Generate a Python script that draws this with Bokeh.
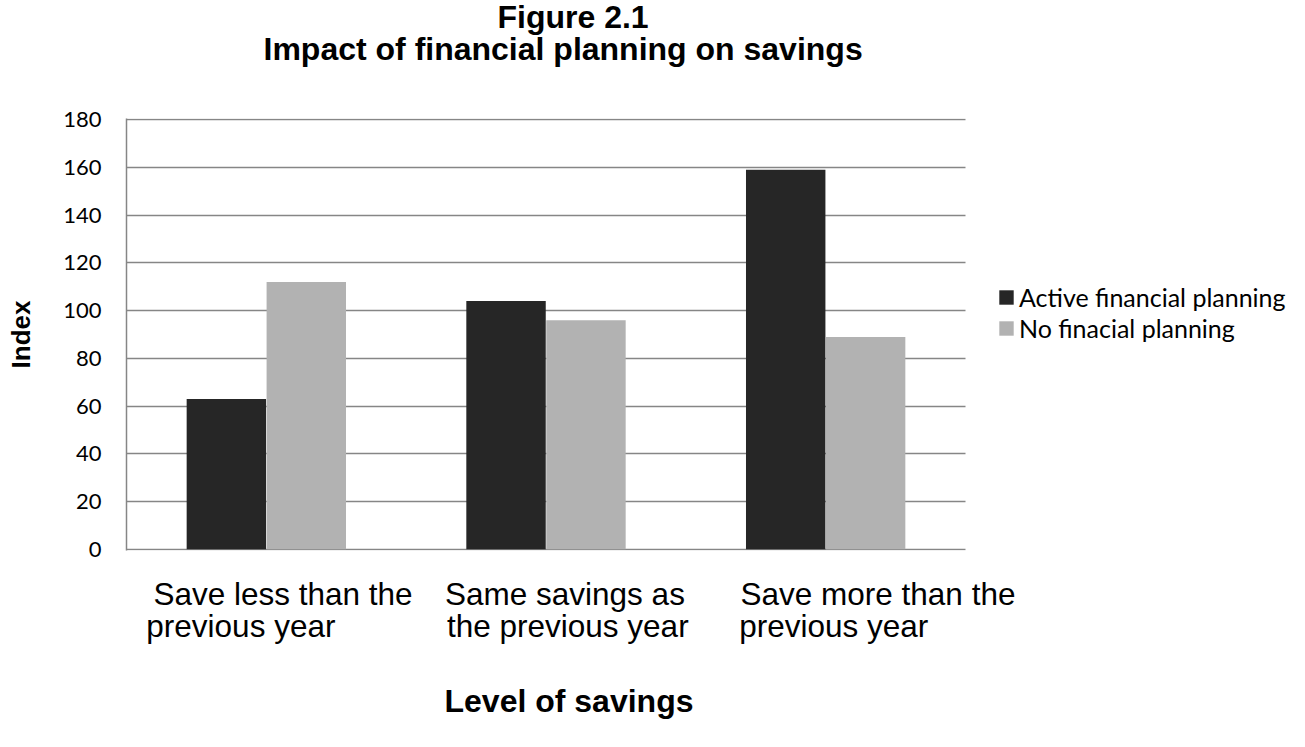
from bokeh.plotting import figure
from bokeh.models import (ColumnDataSource, Range1d, FixedTicker, Grid,
                          Legend, LegendItem, Title, LinearAxis)
from bokeh.transform import dodge
from bokeh.embed import file_html
from bokeh.resources import INLINE

# ---------------- data ----------------
categories = ["Save less than the previous year",
              "Same savings as the previous year",
              "Save more than the previous year"]
label_line1 = ["Save less than the", "Same savings as", "Save more than the"]
label_line2 = ["previous year", "the previous year", "previous year"]
series_names = ["Active financial planning", "No finacial planning"]
active_planning = [63, 104, 159]
no_planning = [112, 96, 89]
y_ticks = [0, 20, 40, 60, 80, 100, 120, 140, 160, 180]
title_line1 = "Figure 2.1"
title_line2 = "Impact of financial planning on savings"
x_title = "Level of savings"
y_title = "Index"

# ---------------- layout / style ----------------
W, H = 1300, 731
ML, MR, MT, MB = 126, 5, 118, 181
PLOT_RIGHT = 965          # right edge of the bar area (px); legend sits beyond it
Y_PAD = 0.5               # keeps the 0 and 180 gridlines inside the frame
# horizontal placement of the two label lines (in category units, 0..3)
LINE1_POS = [0.5595, 1.5678, 2.687]
LINE2_POS = [0.409, 1.578, 2.529]
DARK = "#262626"
LIGHT = "#b2b2b2"
GRID = "#868686"
ARIAL = "Liberation Sans"
CAL = "Lato"

n = len(categories)
x_end = n * (W - ML - MR) / (PLOT_RIGHT - ML)
p = figure(width=W, height=H,
           x_range=Range1d(0, x_end),
           y_range=Range1d(y_ticks[0] - Y_PAD, y_ticks[-1] + Y_PAD),
           output_backend="svg", toolbar_location=None,
           min_border_left=ML, min_border_right=MR,
           min_border_top=MT, min_border_bottom=MB)
p.outline_line_color = None
p.background_fill_color = "white"
p.border_fill_color = "white"
p.xgrid.grid_line_color = None

# horizontal gridlines limited to the category area
if "cross_bounds" in Grid.properties():
    p.ygrid.ticker = FixedTicker(ticks=y_ticks)
    p.ygrid.grid_line_color = GRID
    p.ygrid.grid_line_width = 1.5
    p.ygrid[0].cross_bounds = (0, n)
else:
    p.ygrid.grid_line_color = None
    p.segment(x0=0, x1=n, y0=y_ticks, y1=y_ticks, line_color=GRID, line_width=1.5)

# category slot centres (one slot per category)
src = ColumnDataSource(dict(cat=categories, pos=[i + 0.5 for i in range(n)],
                            active=active_planning, none=no_planning))
r1 = p.vbar(x=dodge("pos", -0.1429), top="active", width=0.284,
            source=src, fill_color=DARK, line_color=None)
r2 = p.vbar(x=dodge("pos", 0.1429), top="none", width=0.284,
            source=src, fill_color=LIGHT, line_color=None)

# y axis
p.yaxis.ticker = FixedTicker(ticks=y_ticks)
p.yaxis.major_tick_in = 0
p.yaxis.major_tick_out = 0
p.yaxis.minor_tick_line_color = None
p.yaxis.major_label_standoff = 25
p.yaxis.major_label_text_font = CAL
p.yaxis.major_label_text_font_size = "22px"
p.yaxis.major_label_text_color = "black"
p.yaxis.axis_line_color = GRID
p.yaxis.axis_line_width = 1.5
p.yaxis.axis_label = y_title
p.yaxis.axis_label_text_font = ARIAL
p.yaxis.axis_label_text_font_style = "bold"
p.yaxis.axis_label_text_font_size = "26px"
p.yaxis.axis_label_text_color = "black"
p.yaxis.axis_label_standoff = 24


def style_label_axis(ax, pos, texts, standoff):
    ax.ticker = FixedTicker(ticks=pos, minor_ticks=[])
    ax.major_label_overrides = {k: t for k, t in zip(pos, texts)}
    ax.axis_line_color = None
    ax.major_tick_line_color = None
    ax.minor_tick_line_color = None
    ax.major_tick_in = 0
    ax.major_tick_out = 0
    ax.major_label_standoff = standoff
    ax.major_label_text_font = ARIAL
    ax.major_label_text_font_size = "31.5px"
    ax.major_label_text_line_height = 1.0
    ax.major_label_text_color = "black"


ax1 = p.xaxis[0]
style_label_axis(ax1, LINE1_POS, label_line1, 25)
ax2 = LinearAxis()
style_label_axis(ax2, LINE2_POS, label_line2, -7)
p.add_layout(ax2, "below")
# x-axis title, placed under the labels
p.add_layout(Title(text=" ", standoff=21, text_font_size="10px"), "below")
p.add_layout(Title(text=x_title, align="left", offset=318, standoff=0,
                   text_font=ARIAL, text_font_style="bold", text_font_size="32px",
                   text_color="black"), "below")

# titles: spacer nearest the plot, then line 2, then line 1 (p.title) on top
p.title.text = title_line1
p.title.align = "left"
p.title.offset = 371
p.title.text_font = ARIAL
p.title.text_font_style = "bold"
p.title.text_font_size = "32px"
p.title.text_color = "black"
p.title.standoff = -10
p.add_layout(Title(text=" ", standoff=40, text_font_size="10px"), "above")
p.add_layout(Title(text=title_line2, align="left", offset=137, standoff=-2,
                   text_font=ARIAL, text_font_style="bold", text_font_size="32px",
                   text_color="black"), "above")

legend = Legend(items=[LegendItem(label=series_names[0], renderers=[r1]),
                       LegendItem(label=series_names[1], renderers=[r2])],
                location=(871, 207), orientation="vertical",
                padding=0, margin=0, spacing=1, label_height=30,
                glyph_width=18, glyph_height=18, label_standoff=4,
                border_line_color=None, background_fill_alpha=0,
                label_text_font=CAL, label_text_font_size="25px",
                label_text_color="black")
p.add_layout(legend)

open("out.html", "w").write(file_html(p, INLINE))
